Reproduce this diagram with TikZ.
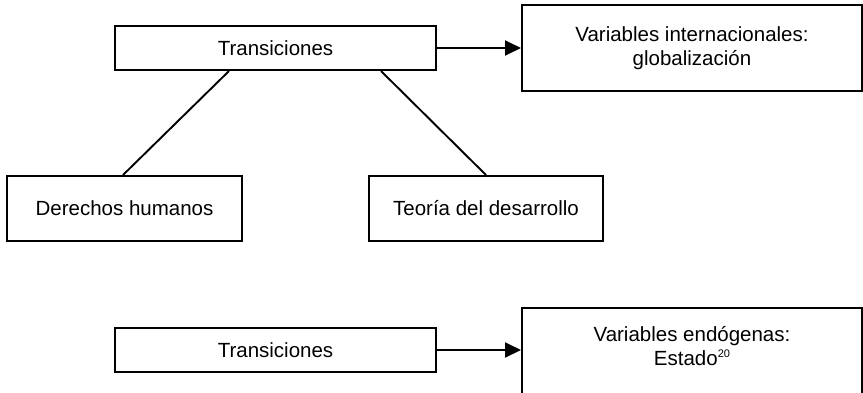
\documentclass[tikz,border=0pt]{standalone}
\usepackage{fontspec}
\setmainfont{Liberation Sans}
\usetikzlibrary{arrows.meta,calc}
\begin{document}
\begin{tikzpicture}[x=1pt,y=-1pt,
  lbl/.style={align=center, font=\fontsize{20.5}{24}\selectfont},
  box/.style={lbl, draw, line width=2pt, rectangle, inner sep=0pt},
  conn/.style={line width=1.9pt},
  arr/.style={conn, -{Triangle[length=16pt,width=15pt]}}]
\useasboundingbox (0,0) rectangle (863,392);
\clip (0,0) rectangle (863,392);
\node[box, minimum width=321pt, minimum height=44pt] (t1) at (275.5,48) {Transiciones};
\node[box, minimum width=340pt, minimum height=86pt] (v1) at (692,48) {Variables internacionales:\\globalización};
\node[box, minimum width=235pt, minimum height=65pt] (d) at (124.5,208.5) {Derechos humanos};
\node[box, minimum width=234pt, minimum height=65pt] (te) at (486,208.5) {Teoría del desarrollo};
\node[box, minimum width=321pt, minimum height=44pt] (t2) at (275.5,350) {Transiciones};
\node[box, minimum width=340pt, minimum height=88pt] (v2) at (692,352) {};
\node[lbl] (v2t) at (692,346) {Variables endógenas:\\Estado\raisebox{0.75ex}{\fontsize{11}{11}\selectfont 20}};
\draw[arr] (t1.east) -- (t1.east -| v1.west);
\draw[arr] (t2.east) -- (t2.east -| v2.west);
\draw[conn] ($(t1.south west)+(115,0)$) -- ($(d.north west)+(117,0)$);
\draw[conn] ($(t1.south west)+(267,0)$) -- ($(te.north west)+(118,0)$);
\end{tikzpicture}
\end{document}
